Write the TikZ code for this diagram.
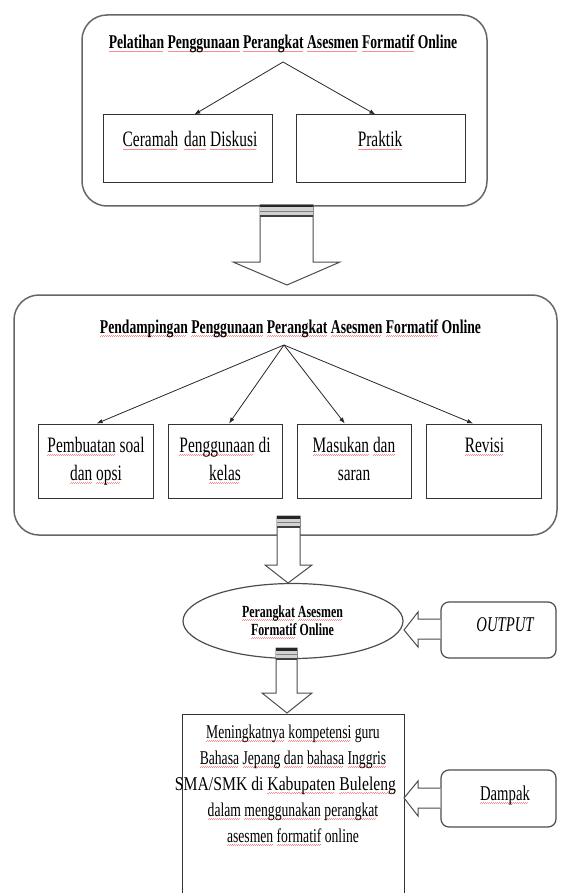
\documentclass[tikz,border=0pt]{standalone}
\usepackage{fontspec}
\setmainfont{Liberation Serif}[FakeStretch=0.7]
\usetikzlibrary{arrows.meta,calc,shapes.geometric}
% red wavy spell-check underline under one word
\newsavebox\sqbox
\newcommand\sq[1]{\sbox\sqbox{#1}%
  \rlap{\raisebox{-3.2pt}{\color{red!45}\hbox to \wd\sqbox{\leaders\hbox{\rule{1pt}{0.7pt}\rule[0.7pt]{1pt}{0.7pt}}\hfill}}}%
  \usebox\sqbox}
% stacked centred lines, baseline at the first line
\newcommand\lines[1]{\begin{tabular}[t]{@{}c@{}}#1\end{tabular}}
% dark cap across the top of a block arrow: left x, right x, top y
\newcommand\capband[3]{%
  \fill[black!18] (#1,#3) rectangle (#2,#3+12);
  \draw[black!85, line width=2.5pt] (#1,#3+1.25) -- (#2,#3+1.25);
  \draw[black!50, line width=1pt] (#1,#3+6.5) -- (#2,#3+6.5);
  \draw[black!75, line width=1.2pt] (#1,#3+11) -- (#2,#3+11);
}
\begin{document}
\begin{tikzpicture}[x=1pt,y=-1pt,
  frame/.style={draw=black!60, line width=1.5pt, rounded corners=25pt, inner sep=0},
  item/.style={draw=black!80, line width=1pt, inner sep=0},
  sidebox/.style={draw=black!70, line width=1.2pt, rounded corners=8pt, inner sep=0,
    minimum width=115pt},
  ttl/.style={font=\fontsize{19.5}{20}\selectfont\bfseries, inner sep=0, anchor=base},
  lbl/.style={font=\fontsize{22}{28}\selectfont, inner sep=0, anchor=base},
  body/.style={font=\fontsize{19.5}{26}\selectfont, inner sep=0, anchor=base},
  link/.style={draw=black!85, line width=0.8pt, -{Latex[length=6pt,width=4.5pt]}},
  blockarrow/.style={draw=black!70, line width=1pt, fill=white, line join=miter},
]
\useasboundingbox (0,0) rectangle (560,893);

% ---- Pelatihan ----
\node[frame, minimum width=405pt, minimum height=191pt] (f1) at (284.5,110.5) {};
\node[ttl] (t1) at (283,49) {\sq{Pelatihan} \sq{Penggunaan} \sq{Perangkat} \sq{Asesmen} \sq{Formatif} Online};
\coordinate (h1) at (283,62);
\node[item, minimum width=169pt, minimum height=68pt] (cer) at (187.5,149) {};
\node[item, minimum width=169pt, minimum height=68pt] (pra) at (380.5,149) {};
\node[lbl] (cerL) at (190,147) {\sq{Ceramah}\hspace{2pt} \sq{dan} \sq{Diskusi}};
\node[lbl] (praL) at (380,147) {\sq{Praktik}};
\draw[link] (h1) -- ($(cer.north west)!0.54!(cer.north east)$);
\draw[link] (h1) -- ($(pra.north west)!0.47!(pra.north east)$);

% ---- Pendampingan ----
\node[frame, minimum width=543pt, minimum height=240pt] (f2) at (285.5,415) {};
\node[ttl] (t2) at (290.5,333) {\sq{Pendampingan} \sq{Penggunaan} \sq{Perangkat} \sq{Asesmen} \sq{Formatif} Online};
\coordinate (h2) at (284,345);
\node[item, minimum width=115pt, minimum height=74pt] (s1) at (95.5,461) {};
\node[item, minimum width=114pt, minimum height=74pt] (s2) at (225,461) {};
\node[item, minimum width=114pt, minimum height=74pt] (s3) at (354,461) {};
\node[item, minimum width=115pt, minimum height=74pt] (s4) at (483.5,461) {};
\node[lbl] (s1L) at (96,452) {\lines{\sq{Pembuatan} soal\\ \sq{dan} \sq{opsi}}};
\node[lbl] (s2L) at (225,452) {\lines{\sq{Penggunaan} di\\ \sq{kelas}}};
\node[lbl] (s3L) at (354,452) {\lines{\sq{Masukan} \sq{dan}\\ saran}};
\node[lbl] (s4L) at (484.5,452) {\sq{Revisi}};
\draw[link] (h2) -- ($(s1.north west)!0.51!(s1.north east)$);
\draw[link] (h2) -- ($(s2.north west)!0.535!(s2.north east)$);
\draw[link] (h2) -- ($(s3.north west)!0.42!(s3.north east)$);
\draw[link] (h2) -- ($(s4.north west)!0.41!(s4.north east)$);

% ---- block arrows downward ----
\draw[blockarrow] (260,205) -- (260,262) -- (233,262) -- (287,285) -- (340,262) -- (313,262) -- (313,205) -- cycle;
\capband{260}{313}{205}

% ---- output ellipse ----
\node[draw=black!70, line width=1.2pt, ellipse, minimum width=220pt, minimum height=75pt, inner sep=0] (el) at (293,621) {};
\node[font=\fontsize{17}{18}\selectfont\bfseries, inner sep=0, anchor=base] (elL) at (292.5,617) {\lines{\sq{Perangkat} \sq{Asesmen}\\ \sq{Formatif} Online}};

\draw[blockarrow] (277,516) -- (277,565) -- (265,565) -- (288,583) -- (312,565) -- (300,565) -- (300,516) -- cycle;
\capband{277}{300}{516}

\draw[blockarrow] (276,648) -- (276,693) -- (262,693) -- (287,713) -- (312,693) -- (297,693) -- (297,648) -- cycle;
\capband{276}{297}{648}

% ---- impact box ----
\node[item, minimum width=222pt, minimum height=190pt, anchor=north west] (imp) at (182,714) {};
\node[body] (impL) at (293,738) {\lines{\sq{Meningkatnya} \sq{kompetensi} guru\\
  \sq{Bahasa} \sq{Jepang} \sq{dan} \sq{bahasa} \sq{Inggris}\\
  \scalebox{1.15}[1]{SMA/SMK di \sq{Kabupaten} \sq{Buleleng}}\hspace*{15pt}\\
  \sq{dalam} \sq{menggunakan} \sq{perangkat}\\
  \sq{asesmen} \sq{formatif} online}};

% ---- side boxes ----
\node[sidebox, minimum height=56pt] (out) at (498.5,630) {};
\node[font=\fontsize{21}{22}\selectfont\itshape, inner sep=0, anchor=base] (outL) at (505,631) {OUTPUT};
\node[sidebox, minimum height=57pt] (dam) at (498.5,798.5) {};
\node[font=\fontsize{21}{22}\selectfont, inner sep=0, anchor=base] (damL) at (505,800) {\sq{Dampak}};

% ---- block arrows pointing left ----
\draw[blockarrow] (out.west |- 0,619) -- (418,619) -- (418,612) -- (404,630) -- (418,647) -- (418,639) -- (out.west |- 0,639);
\draw[blockarrow] (dam.west |- 0,788) -- (418,788) -- (418,781) -- (404,798) -- (418,816) -- (418,808) -- (dam.west |- 0,808);
\end{tikzpicture}
\end{document}
